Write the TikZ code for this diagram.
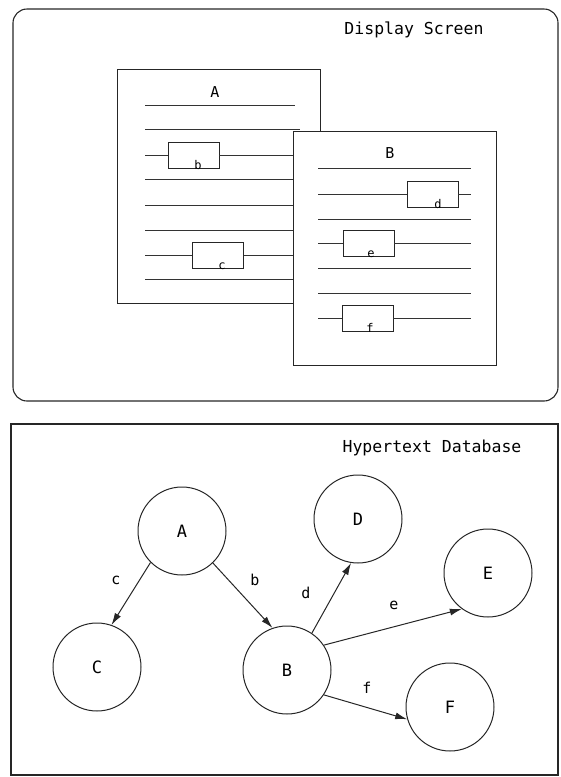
\documentclass[tikz,border=0pt]{standalone}
\usepackage{fontspec}
\setmonofont{DejaVu Sans Mono}
\usepackage{tikz}
\usetikzlibrary{arrows.meta, positioning}

\tikzset{
	frame/.style={line width=1.1pt, draw=black!85},
	page/.style={line width=0.9pt, draw=black!85},
	textline/.style={line width=0.9pt, draw=black!80},
	linkbox/.style={draw=black!85, line width=0.9pt, minimum width=51pt, minimum height=26pt, inner sep=0pt},
	boxlabel/.style={font=\ttfamily\fontsize{12}{12}\selectfont, anchor=base, inner sep=0pt},
	title/.style={font=\ttfamily\fontsize{16.5}{16.5}\selectfont, inner sep=0pt},
	doc/.style={circle, draw=black!85, line width=1pt, minimum size=88pt, inner sep=0pt, font=\ttfamily\fontsize{17}{17}\selectfont},
	link/.style={line width=1pt, draw=black!85, -{Latex[length=12pt, width=7pt]}},
	linklabel/.style={font=\ttfamily\fontsize{15}{15}\selectfont, inner sep=0pt}
}

\begin{document}
\begin{tikzpicture}[x=1pt, y=-1pt]
	\useasboundingbox (0,0) rectangle (561,777);
	% display screen
	\draw[frame, rounded corners=14pt] (13,9) rectangle (558,401);
	\node[title] (screen) at (414,30) {Display Screen};

	% page A
	\draw[page] (117,69) rectangle (320,303);
	\node[linklabel] (pageA) at (215,92) {A};
	\draw[textline] (145,105) -- (295,105);
	\foreach \y in {129,179,205,230,279}
		\draw[textline] (145,\y) -- (300,\y);
	\node[linkbox] (bb) at (193.5,155) {};
	\node[boxlabel] (lb) at (198,169) {b};
	\draw[textline] (145,155) -- (bb.west) (bb.east) -- (300,155);
	\node[linkbox] (bc) at (218,255) {};
	\node[boxlabel] (lcc) at (222,269) {c};
	\draw[textline] (145,255) -- (bc.west) (bc.east) -- (300,255);

	% page B
	\filldraw[page, fill=white] (293,131) rectangle (496,365);
	\node[linklabel] (pageB) at (390,153) {B};
	\foreach \y in {168,219,268,293}
		\draw[textline] (318,\y) -- (471,\y);
	\node[linkbox] (bd) at (432.5,194) {};
	\node[boxlabel] (ld) at (438,208) {d};
	\draw[textline] (318,194) -- (bd.west) (bd.east) -- (471,194);
	\node[linkbox] (be) at (368.5,243.5) {};
	\node[boxlabel] (le) at (371,257.5) {e};
	\draw[textline] (318,243.5) -- (be.west) (be.east) -- (471,243.5);
	\node[linkbox] (bf) at (367.5,318) {};
	\node[boxlabel] (lf) at (370,332) {f};
	\draw[textline] (318,318) -- (bf.west) (bf.east) -- (471,318);

	% hypertext database
	\draw[frame] (11,424) rectangle (558,775);
	\node[title] (base) at (432,448) {Hypertext Database};

	\node[doc] (A) at (182,531) {A};
	\node[doc] (C) at (97,667) {C};
	\node[doc] (B) at (287,670) {B};
	\node[doc] (D) at (358,519) {D};
	\node[doc] (E) at (488,573) {E};
	\node[doc] (F) at (450,707) {F};

	\draw[link] (A.225) -- (C.71);
	\draw[link] (A.-46) -- (B.109);
	\draw[link] (B.56) -- (D.261);
	\draw[link] (B.34) -- (E.234);
	\draw[link] (B.-34) -- (F.196);

	\node[linklabel] (lc) at (116,580) {c};
	\node[linklabel] (lbb) at (255,580) {b};
	\node[linklabel] (ldd) at (306,593) {d};
	\node[linklabel] (lee) at (394,605) {e};
	\node[linklabel] (lff) at (367,688) {f};
\end{tikzpicture}
\end{document}
